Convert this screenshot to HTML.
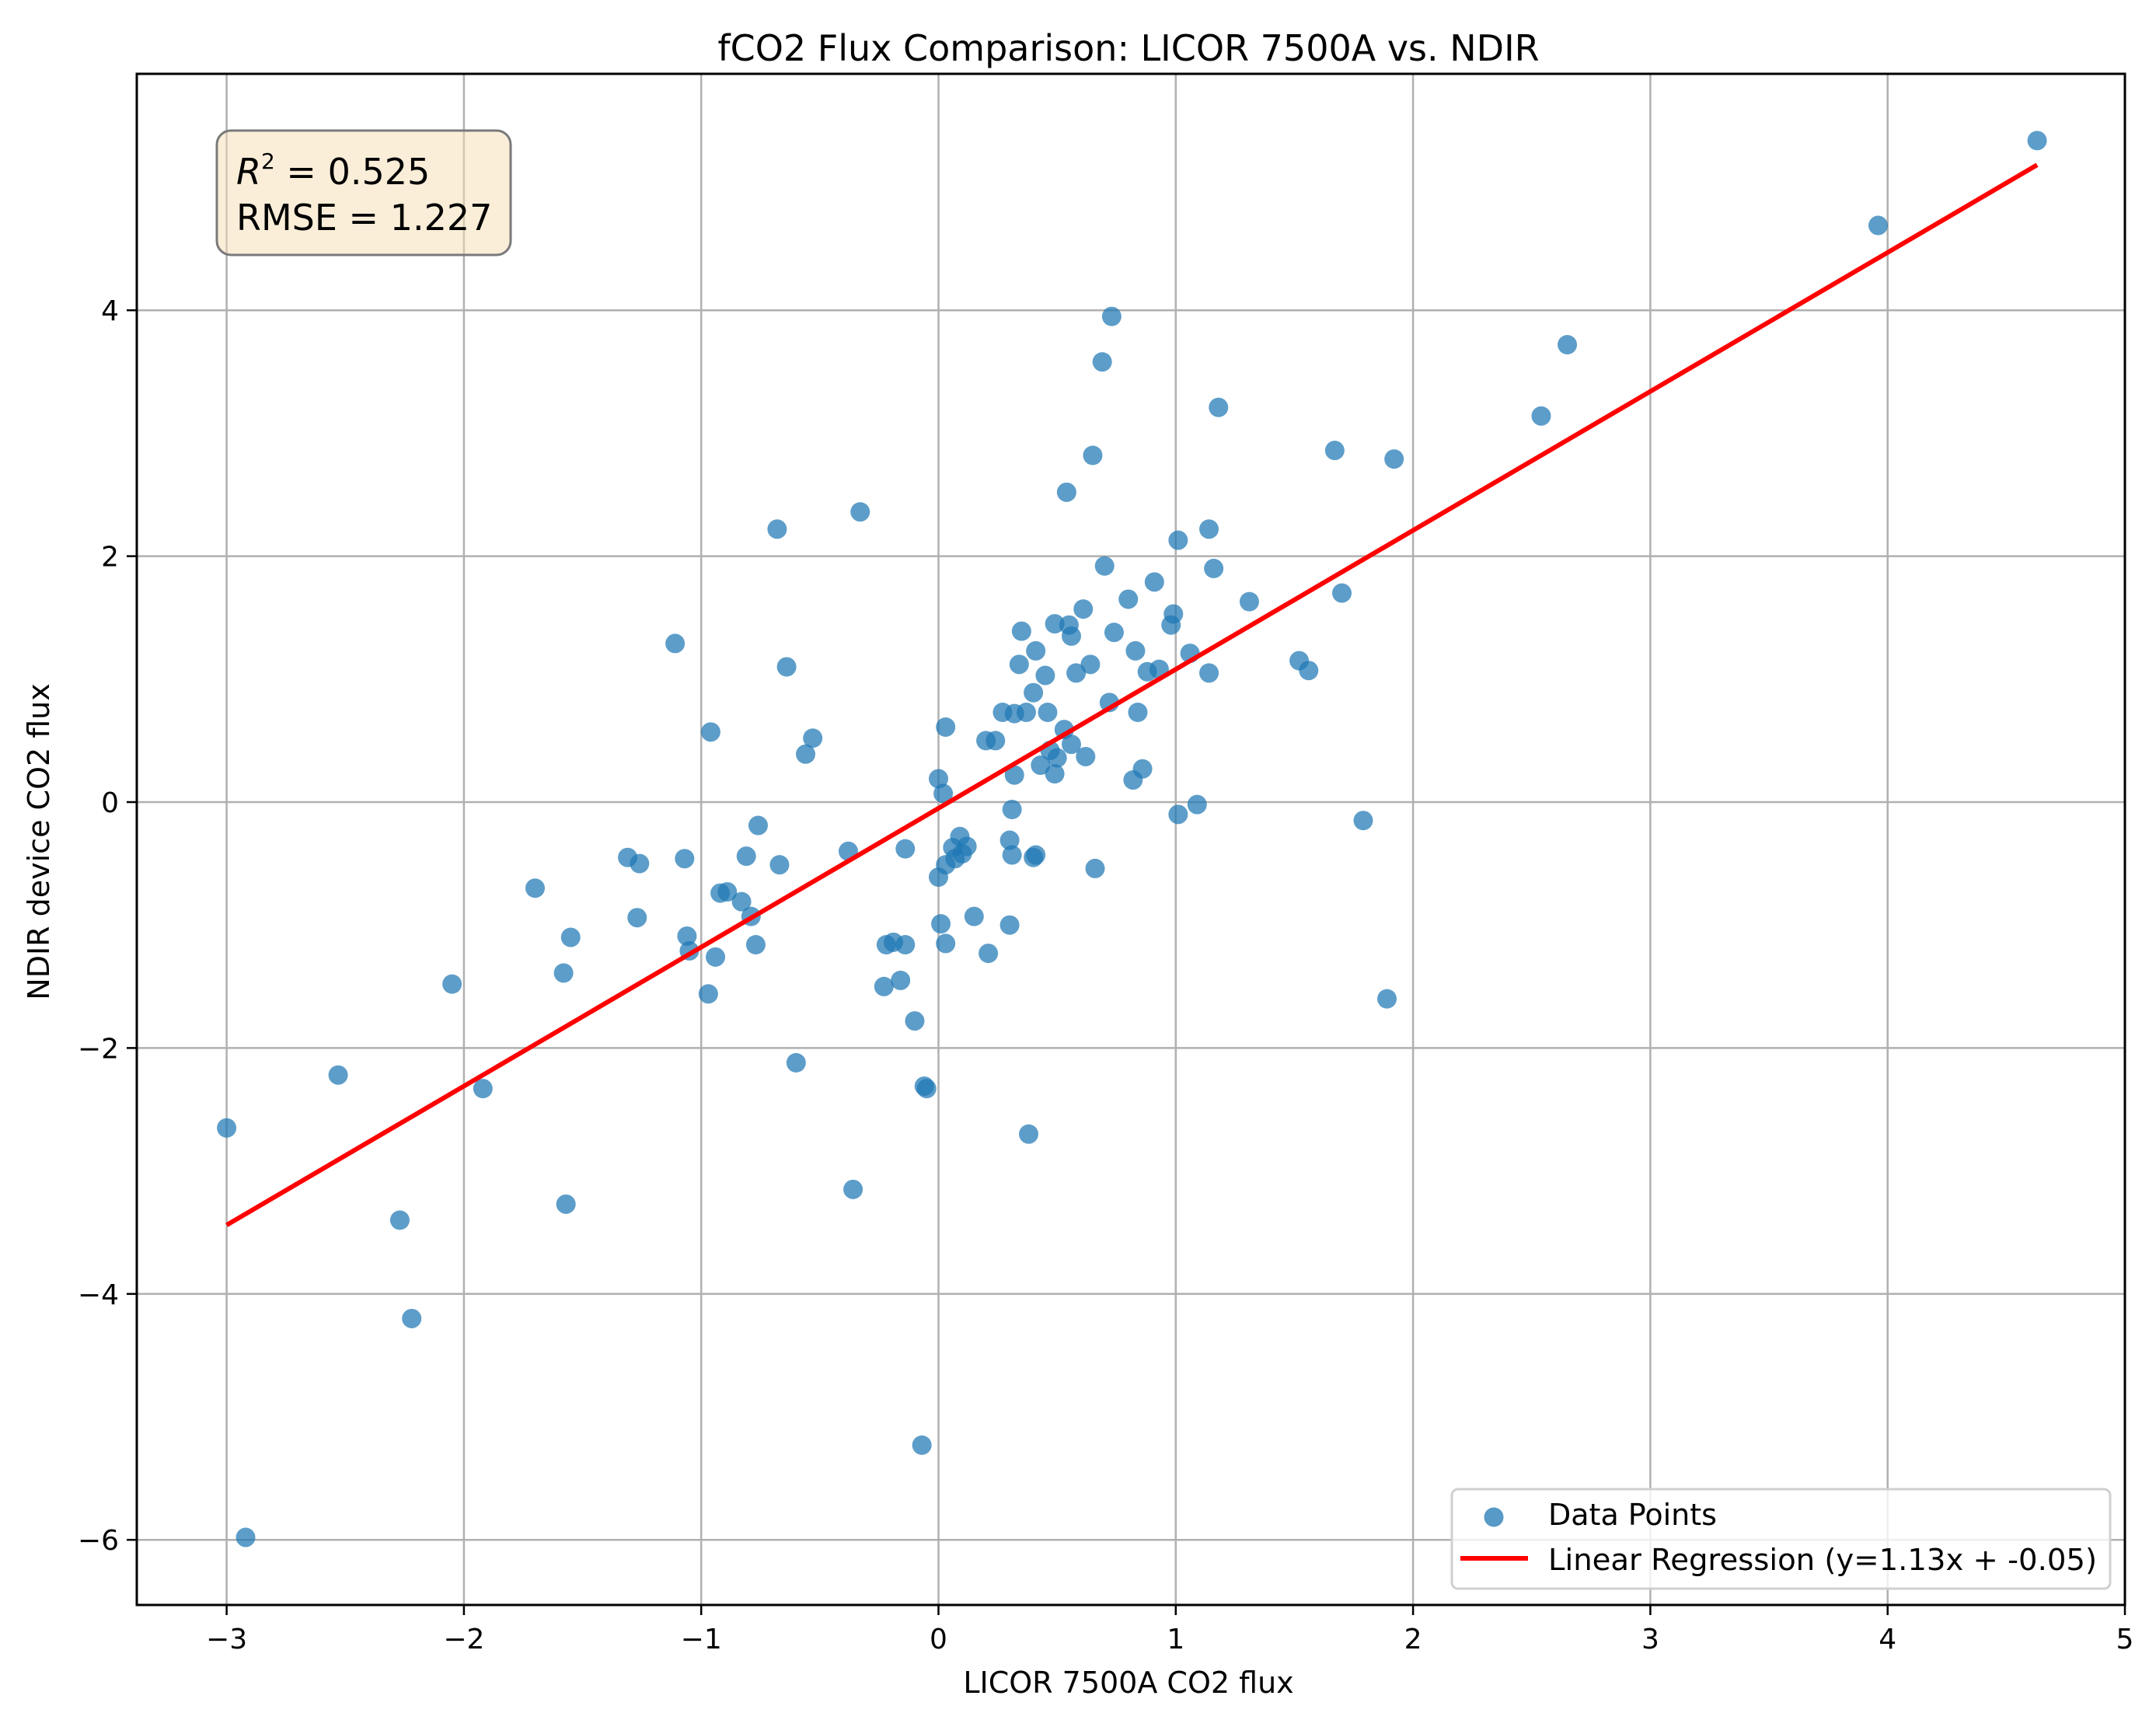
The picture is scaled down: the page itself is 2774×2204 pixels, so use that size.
<!DOCTYPE html>
<html><head><meta charset="utf-8"><style>
html,body{margin:0;padding:0;background:#fff;}
svg{display:block;font-family:"DejaVu Sans","Liberation Sans",sans-serif;}
</style></head><body>
<svg id="chart" width="2774" height="2204" viewBox="0 0 2774 2204" xmlns="http://www.w3.org/2000/svg">
<rect x="0" y="0" width="2774" height="2204" fill="#fff"/>
<g id="grid"></g>
<g id="marks"></g>
<rect x="176" y="95" width="2558" height="1970" fill="none" stroke="#000" stroke-width="3"/>
<g id="ticks"></g>
<text x="1452" y="78" text-anchor="middle" font-size="46" fill="#000">fCO2 Flux Comparison: LICOR 7500A vs. NDIR</text>
<text x="1452" y="2178" text-anchor="middle" font-size="38" fill="#000">LICOR 7500A CO2 flux</text>
<text x="0" y="0" transform="translate(63,1083) rotate(-90)" text-anchor="middle" font-size="38" fill="#000">NDIR device CO2 flux</text>
<g>
<rect x="279" y="168" width="378" height="160" rx="18" fill="#f5deb3" fill-opacity="0.5" stroke="#7a7a7a" stroke-width="3"/>
<text x="304" y="237" font-size="46" fill="#000"><tspan font-style="italic">R</tspan><tspan font-size="28" dy="-20">2</tspan><tspan dy="20"> = 0.525</tspan></text>
<text x="304" y="296" font-size="46" fill="#000">RMSE = 1.227</text>
</g>
<g>
<rect x="1868" y="1916" width="847" height="128" rx="8" fill="#fff" fill-opacity="0.8" stroke="#d0d0d0" stroke-width="3"/>
<circle cx="1922" cy="1952" r="12.5" fill="#1f77b4" fill-opacity="0.75"/>
<text x="1992" y="1962" font-size="38" fill="#000">Data Points</text>
<line x1="1879" y1="2005" x2="1966" y2="2005" stroke="#ff0000" stroke-width="6"/>
<text x="1992" y="2020" font-size="38" fill="#000" textLength="706" lengthAdjust="spacingAndGlyphs">Linear Regression (y=1.13x + -0.05)</text>
</g>
</svg>
<script>
const xTicks = [-3,-2,-1,0,1,2,3,4,5];
const yTicks = [-6,-4,-2,0,2,4];
const xVals = [-3.0,-2.92,-2.53,-2.27,-2.22,-2.05,-1.92,-1.70,-1.58,-1.57,-1.55,-1.31,-1.27,-1.26,-1.11,-1.07,-1.06,-1.05,-0.97,-0.96,-0.94,-0.92,-0.89,-0.83,-0.81,-0.79,-0.77,-0.76,-0.68,-0.67,-0.64,-0.60,-0.56,-0.53,-0.38,-0.36,-0.33,-0.23,-0.22,-0.19,-0.16,-0.14,-0.14,-0.10,-0.06,-0.05,-0.07,0.0,0.0,0.01,0.02,0.03,0.03,0.03,0.06,0.07,0.09,0.10,0.12,0.15,0.20,0.21,0.24,0.27,0.30,0.30,0.31,0.31,0.32,0.32,0.34,0.35,0.37,0.38,0.40,0.40,0.41,0.41,0.43,0.45,0.46,0.47,0.49,0.49,0.50,0.53,0.54,0.55,0.56,0.56,0.58,0.61,0.62,0.64,0.65,0.66,0.69,0.70,0.72,0.73,0.74,0.80,0.82,0.83,0.84,0.86,0.88,0.91,0.93,0.98,0.99,1.01,1.01,1.06,1.09,1.14,1.14,1.16,1.18,1.31,1.52,1.56,1.67,1.70,1.79,1.89,1.92,2.54,2.65,3.96,4.63];
const yVals = [-2.65,-5.98,-2.22,-3.4,-4.2,-1.48,-2.33,-0.70,-1.39,-3.27,-1.10,-0.45,-0.94,-0.50,1.29,-0.46,-1.09,-1.21,-1.56,0.57,-1.26,-0.74,-0.73,-0.81,-0.44,-0.93,-1.16,-0.19,2.22,-0.51,1.10,-2.12,0.39,0.52,-0.40,-3.15,2.36,-1.50,-1.16,-1.14,-1.45,-1.16,-0.38,-1.78,-2.31,-2.33,-5.23,0.19,-0.61,-0.99,0.07,-0.51,-1.15,0.61,-0.37,-0.46,-0.28,-0.42,-0.36,-0.93,0.50,-1.23,0.50,0.73,-0.31,-1.00,-0.43,-0.06,0.22,0.72,1.12,1.39,0.73,-2.70,-0.45,0.89,1.23,-0.43,0.30,1.03,0.73,0.42,0.23,1.45,0.36,0.59,2.52,1.44,1.35,0.47,1.05,1.57,0.37,1.12,2.82,-0.54,3.58,1.92,0.81,3.95,1.38,1.65,0.18,1.23,0.73,0.27,1.06,1.79,1.08,1.44,1.53,2.13,-0.10,1.21,-0.02,2.22,1.05,1.90,3.21,1.63,1.15,1.07,2.86,1.70,-0.15,-1.60,2.79,3.14,3.72,4.69,5.38];
const regSlope = 1.13;
const regIntercept = -0.05;
const regRange = [-3.0, 4.63];

const NS = "http://www.w3.org/2000/svg";
function sx(v){ return 1207.5 + v*305.3; }
function sy(v){ return 1032 - v*158.2; }
function mk(tag, attrs, parent){ const e=document.createElementNS(NS,tag); for(const k in attrs) e.setAttribute(k,attrs[k]); parent.appendChild(e); return e; }
const grid=document.getElementById('grid'), marks=document.getElementById('marks'), ticks=document.getElementById('ticks');
function lbl(v){ return v<0 ? '\u2212'+Math.abs(v) : String(v); }
xTicks.forEach(t=>{
  const X=sx(t);
  if (t>-3.3 && t<5) {
    const g=mk('line',{x1:X,y1:95,x2:X,y2:2065,stroke:'#b0b0b0','stroke-width':2.5},grid);
    
    
  }
  const tk=mk('line',{x1:X,y1:2065,x2:X,y2:2078,stroke:'#000','stroke-width':2.5},ticks);
  
  
  const tx=mk('text',{x:X,y:2121,'text-anchor':'middle','font-size':36,fill:'#000'},ticks);
  tx.textContent=lbl(t);
  
  
});
yTicks.forEach(t=>{
  const Y=sy(t);
  const g=mk('line',{x1:176,y1:Y,x2:2734,y2:Y,stroke:'#b0b0b0','stroke-width':2.5},grid);
  
  
  const tk=mk('line',{x1:163,y1:Y,x2:176,y2:Y,stroke:'#000','stroke-width':2.5},ticks);
  
  
  const tx=mk('text',{x:153,y:Y+13,'text-anchor':'end','font-size':36,fill:'#000'},ticks);
  tx.textContent=lbl(t);
  
  
});
xVals.forEach((v,i)=>{
  const c=mk('circle',{cx:sx(v),cy:sy(yVals[i]),r:12.5,fill:'#1f77b4','fill-opacity':0.72},marks);
  
  
});
const rl=mk('line',{x1:sx(regRange[0]),y1:sy(regSlope*regRange[0]+regIntercept),x2:sx(regRange[1]),y2:sy(regSlope*regRange[1]+regIntercept),stroke:'#ff0000','stroke-width':6},marks);


</script>
</body></html>
